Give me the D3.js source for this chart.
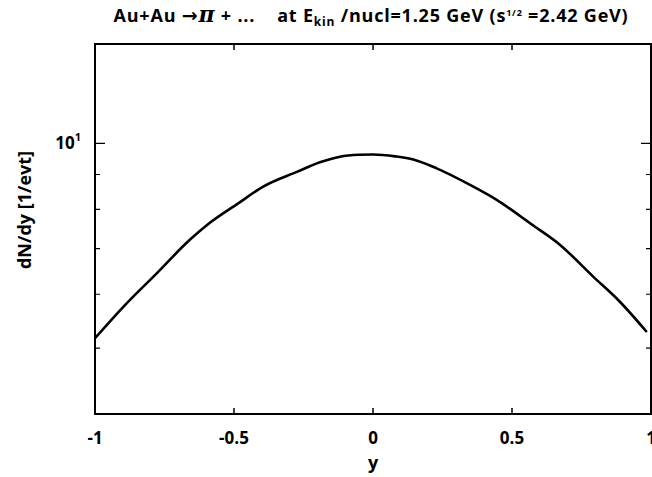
<!DOCTYPE html>
<html lang="en">
<head>
  <meta charset="utf-8">
  <script src="https://d3js.org/d3.v7.min.js"></script>
  <style>
    body { margin: 0; background: #fff; }
    text { font-family: "Open Sans", "Noto Sans", sans-serif; font-weight: bold; fill: #000; white-space: pre; }
  </style>
</head>
<body>
<svg id="chart" width="652" height="477"></svg>
<script>
// rapidity y and dN/dy
var rapidity = [-1.0, -0.898, -0.778, -0.658, -0.598, -0.485, -0.395, -0.274, -0.191, -0.119, -0.05, 0.0, 0.08, 0.145, 0.229, 0.349, 0.445, 0.529, 0.565, 0.673, 0.792, 0.888, 0.985];
var dNdy     = [5.17, 5.75, 6.44, 7.22, 7.58, 8.16, 8.64, 9.08, 9.38, 9.56, 9.62, 9.63, 9.57, 9.47, 9.19, 8.69, 8.26, 7.82, 7.63, 7.09, 6.37, 5.85, 5.28];

var xTicks = [-1, -0.5, 0, 0.5, 1];
var yMajor = [10];
var yMinor = [5, 6, 7, 8, 9];

var svg = d3.select("#chart"),
    margin = {top: 44, right: 1, bottom: 63, left: 95},
    width = +svg.attr("width") - margin.left - margin.right,
    height = +svg.attr("height") - margin.top - margin.bottom;

var x = d3.scaleLinear().domain([-1, 1]).range([0, width]);
var y = d3.scaleLog().domain([4, 14]).range([height, 0]);

var g = svg.append("g").attr("transform", "translate(" + margin.left + "," + margin.top + ")");

// ticks, pointing inward on all four sides
g.selectAll(".xt").data(xTicks).enter().append("path")
    .attr("d", d => "M" + x(d) + "," + height + "v-6M" + x(d) + ",0v6")
    .attr("stroke", "#000").attr("stroke-width", 1.5);

g.selectAll(".ym").data(yMajor).enter().append("path")
    .attr("d", d => "M0," + y(d) + "h10M" + width + "," + y(d) + "h-10")
    .attr("stroke", "#000").attr("stroke-width", 1.2);

g.selectAll(".yn").data(yMinor).enter().append("path")
    .attr("d", d => "M0," + y(d) + "h5M" + width + "," + y(d) + "h-5")
    .attr("stroke", "#000").attr("stroke-width", 1.2);

// curve
var line = d3.line().x((d, i) => x(rapidity[i])).y(d => y(d)).curve(d3.curveMonotoneX);
g.append("path").datum(dNdy)
    .attr("d", line)
    .attr("fill", "none").attr("stroke", "#000").attr("stroke-width", 2.6);

// frame
g.append("rect").attr("width", width).attr("height", height)
    .attr("fill", "none").attr("stroke", "#000").attr("stroke-width", 2);

// tick labels
g.selectAll(".xl").data(xTicks).enter().append("text")
    .attr("x", d => x(d)).attr("y", height + 30)
    .attr("text-anchor", "middle").style("font-size", "17px")
    .text(d => d);

var yl = g.selectAll(".yl").data(yMajor).enter().append("text")
    .attr("x", -14).attr("y", d => y(d) + 6)
    .attr("text-anchor", "end").style("font-size", "17px");
yl.append("tspan").text("10");
yl.append("tspan").attr("dy", -8).style("font-size", "11px").text("1");

// axis titles
g.append("text").attr("x", x(0)).attr("y", height + 55)
    .attr("text-anchor", "middle").style("font-size", "18px").text("y");

svg.append("text")
    .attr("transform", "translate(31,210) rotate(-90)")
    .attr("text-anchor", "middle").style("font-size", "18px")
    .text("dN/dy [1/evt]");

// title
var t = svg.append("text").attr("x", 371).attr("y", 22)
    .attr("text-anchor", "middle").style("font-size", "18px").style("letter-spacing", "0.8px");
t.append("tspan").text("Au+Au ");
t.append("tspan").style("font-family", "'DejaVu Sans', sans-serif").style("font-size", "19px").text("\u2192");
t.append("tspan").style("font-style", "italic").style("font-family", "'DejaVu Serif', serif").style("font-size", "22px").text("\u03c0");
t.append("tspan").text(" + ...    at E");
t.append("tspan").attr("dy", 4).style("font-size", "12px").text("kin");
t.append("tspan").attr("dy", -4).text(" /nucl=1.25 GeV (s");
t.append("tspan").attr("dy", -6).style("font-size", "9px").text("1/2");
t.append("tspan").attr("dy", 6).text(" =2.42 GeV)");
</script>
</body>
</html>
